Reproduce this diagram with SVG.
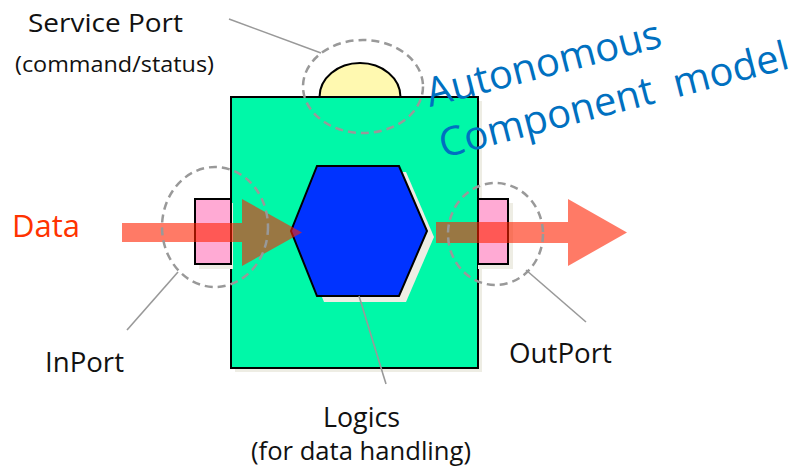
<svg xmlns="http://www.w3.org/2000/svg" width="800" height="470" viewBox="0 0 800 470">
<style>
.lbl{font-family:"Open Sans","Liberation Sans",sans-serif;fill:#111;}
.shadow{fill:#eeede4;}
.ring{fill:none;stroke:#999;stroke-width:2.5;stroke-dasharray:8 5;}
.lead{stroke:#999;stroke-width:1.6;fill:none;}
.flow{fill:#ff2200;fill-opacity:0.6;}
.title{font-family:"Open Sans","Liberation Sans",sans-serif;fill:#0070c0;font-size:40px;white-space:pre;}
</style>
<rect width="800" height="470" fill="#fff"/>
<g id="component">
  <rect class="shadow" x="235" y="101" width="247" height="271"/>
  <rect x="231" y="97" width="247" height="271" fill="#00f8a8" stroke="#000" stroke-width="2"/>
</g>
<g id="service-port">
  <path d="M319.5,97 A40.5,34 0 0 1 400.5,97 Z" fill="#fff9b0" stroke="#000" stroke-width="2"/>
</g>
<g id="inport">
  <rect class="shadow" x="199" y="203" width="34" height="66"/>
  <rect x="195" y="199" width="36" height="65" fill="#ffaad4" stroke="#000" stroke-width="2"/>
</g>
<g id="outport">
  <rect class="shadow" x="478" y="203" width="35" height="66"/>
  <rect x="478" y="199" width="30" height="65" fill="#ffaad4" stroke="#000" stroke-width="2"/>
</g>
<g id="logics">
  <polygon class="shadow" points="324,172 406,172 434,237 406,302 324,302 298,237"/>
  <polygon points="317,166 399,166 427,231 399,296 317,296 291,231" fill="#0033ff" stroke="#000" stroke-width="2"/>
</g>
<g id="connectors">
  <polygon class="flow" points="122,223 242,223 242,199 302,232.5 242,266 242,242 122,242"/>
  <polygon class="flow" points="436,222 568,222 568,199 627,232.5 568,266 568,243 436,243"/>
  <ellipse class="ring" cx="363" cy="86.5" rx="60" ry="46.5"/>
  <ellipse class="ring" cx="215" cy="227" rx="53" ry="60"/>
  <ellipse class="ring" cx="495.5" cy="234" rx="47.5" ry="51"/>
  <line class="lead" x1="229" y1="19" x2="321" y2="53"/>
  <line class="lead" x1="178" y1="272" x2="127" y2="330"/>
  <line class="lead" x1="526" y1="270" x2="586" y2="322"/>
  <line class="lead" x1="359" y1="296" x2="386" y2="384"/>
</g>
<g id="labels">
  <text class="lbl" x="28" y="32" font-size="25" textLength="155" lengthAdjust="spacingAndGlyphs">Service Port</text>
  <text class="lbl" x="15" y="72" font-size="21" textLength="199" lengthAdjust="spacingAndGlyphs">(command/status)</text>
  <text x="12" y="237" font-size="31" font-family="Open Sans, Liberation Sans, sans-serif" fill="#ff3300">Data</text>
  <text class="lbl" x="45" y="372" font-size="27" textLength="79" lengthAdjust="spacingAndGlyphs">InPort</text>
  <text class="lbl" x="509" y="363" font-size="27" textLength="103" lengthAdjust="spacingAndGlyphs">OutPort</text>
  <text class="lbl" x="323" y="427" font-size="27" textLength="77" lengthAdjust="spacingAndGlyphs">Logics</text>
  <text class="lbl" x="251" y="460" font-size="25" textLength="220" lengthAdjust="spacingAndGlyphs">(for data handling)</text>
  <text class="title" x="430" y="107" transform="rotate(-14.5 430 107)">Autonomous</text>
  <text class="title" x="443" y="158" transform="rotate(-14.5 443 158)" xml:space="preserve">Component  model</text>
</g>
</svg>
